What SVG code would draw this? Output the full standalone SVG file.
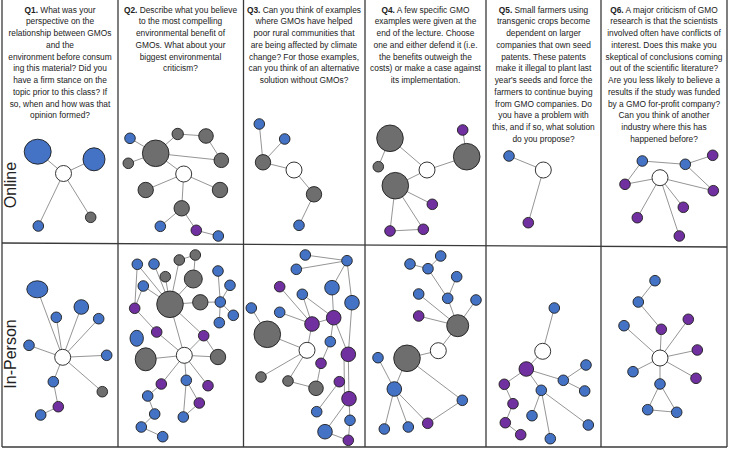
<svg xmlns="http://www.w3.org/2000/svg" width="729" height="449" viewBox="0 0 729 449">
<style>
.h{font-family:"Liberation Sans",Arial,sans-serif;font-size:8.35px;fill:#222;text-anchor:middle}
.h .q{font-weight:bold}
.lab{font-family:"Liberation Sans",Arial,sans-serif;font-size:16px;fill:#222;text-anchor:middle}
.grid line{stroke:#3a3a3a;stroke-width:1.3}
#connectors line{stroke:#7a7a7a;stroke-width:0.8}
.b{fill:#4472c4;stroke:#1e1e1e;stroke-width:0.9}
.g{fill:#6e6e6e;stroke:#1e1e1e;stroke-width:0.9}
.p{fill:#7030a0;stroke:#1e1e1e;stroke-width:0.9}
.w{fill:#fff;stroke:#1e1e1e;stroke-width:0.9}
</style>
<rect width="729" height="449" fill="#fff"/>
<g class="grid">
<line x1="2" y1="0" x2="2" y2="447"/>
<line x1="118" y1="0" x2="118" y2="447"/>
<line x1="243.5" y1="0" x2="243.5" y2="447"/>
<line x1="365" y1="0" x2="365" y2="447"/>
<line x1="486" y1="0" x2="486" y2="447"/>
<line x1="601" y1="0" x2="601" y2="447"/>
<line x1="727" y1="0" x2="727" y2="447"/>
<line x1="2" y1="243" x2="727" y2="247"/>
<line x1="2" y1="447" x2="727" y2="447"/>
</g>
<g id="headers">
<text class="h"><tspan x="60" y="12.5"><tspan class="q">Q1.</tspan> What was your</tspan><tspan x="60" y="24.25">perspective on the</tspan><tspan x="60" y="36">relationship between GMOs</tspan><tspan x="60" y="47.75">and the</tspan><tspan x="60" y="59.5">environment before consum</tspan><tspan x="60" y="71.25">ing this material? Did you</tspan><tspan x="60" y="83">have a firm stance on the</tspan><tspan x="60" y="94.75">topic prior to this class? If</tspan><tspan x="60" y="106.5">so, when and how was that</tspan><tspan x="60" y="118.25">opinion formed?</tspan></text>
<text class="h"><tspan x="180.5" y="12.5"><tspan class="q">Q2.</tspan> Describe what you believe</tspan><tspan x="180.5" y="24.25">to the most compelling</tspan><tspan x="180.5" y="36">environmental benefit of</tspan><tspan x="180.5" y="47.75">GMOs. What about your</tspan><tspan x="180.5" y="59.5">biggest environmental</tspan><tspan x="180.5" y="71.25">criticism?</tspan></text>
<text class="h"><tspan x="304" y="12.5"><tspan class="q">Q3.</tspan> Can you think of examples</tspan><tspan x="304" y="24.25">where GMOs have helped</tspan><tspan x="304" y="36">poor rural communities that</tspan><tspan x="304" y="47.75">are being affected by climate</tspan><tspan x="304" y="59.5">change? For those examples,</tspan><tspan x="304" y="71.25">can you think of an alternative</tspan><tspan x="304" y="83">solution without GMOs?</tspan></text>
<text class="h"><tspan x="425.5" y="12.5"><tspan class="q">Q4.</tspan> A few specific GMO</tspan><tspan x="425.5" y="24.25">examples were given at the</tspan><tspan x="425.5" y="36">end of the lecture. Choose</tspan><tspan x="425.5" y="47.75">one and either defend it (i.e.</tspan><tspan x="425.5" y="59.5">the benefits outweigh the</tspan><tspan x="425.5" y="71.25">costs) or make a case against</tspan><tspan x="425.5" y="83">its implementation.</tspan></text>
<text class="h"><tspan x="543.5" y="12.5"><tspan class="q">Q5.</tspan> Small farmers using</tspan><tspan x="543.5" y="24.25">transgenic crops become</tspan><tspan x="543.5" y="36">dependent on larger</tspan><tspan x="543.5" y="47.75">companies that own seed</tspan><tspan x="543.5" y="59.5">patents. These patents</tspan><tspan x="543.5" y="71.25">make it illegal to plant last</tspan><tspan x="543.5" y="83">year's seeds and force the</tspan><tspan x="543.5" y="94.75">farmers to continue buying</tspan><tspan x="543.5" y="106.5">from GMO companies. Do</tspan><tspan x="543.5" y="118.25">you have a problem with</tspan><tspan x="543.5" y="130">this, and if so, what solution</tspan><tspan x="543.5" y="141.75">do you propose?</tspan></text>
<text class="h"><tspan x="664" y="12.5"><tspan class="q">Q6.</tspan> A major criticism of GMO</tspan><tspan x="664" y="24.25">research is that the scientists</tspan><tspan x="664" y="36">involved often have conflicts of</tspan><tspan x="664" y="47.75">interest. Does this make you</tspan><tspan x="664" y="59.5">skeptical of conclusions coming</tspan><tspan x="664" y="71.25">out of the scientific literature?</tspan><tspan x="664" y="83">Are you less likely to believe a</tspan><tspan x="664" y="94.75">results if the study was funded</tspan><tspan x="664" y="106.5">by a GMO for-profit company?</tspan><tspan x="664" y="118.25">Can you think of another</tspan><tspan x="664" y="130">industry where this has</tspan><tspan x="664" y="141.75">happened before?</tspan></text>
</g>
<g id="row-labels">
<text class="lab" transform="translate(16,185) rotate(-90)">Online</text>
<text class="lab" transform="translate(16,354) rotate(-90)">In-Person</text>
</g>
<g id="connectors">
<line x1="63.5" y1="173.5" x2="37.7" y2="151.7"/><line x1="63.5" y1="173.5" x2="94" y2="159.3"/><line x1="63.5" y1="173.5" x2="38.3" y2="226"/><line x1="63.5" y1="173.5" x2="90.7" y2="217.3"/>
<line x1="130" y1="138.3" x2="155.7" y2="153.3"/><line x1="128.3" y1="163.3" x2="155.7" y2="153.3"/><line x1="155.7" y1="153.3" x2="177.7" y2="134"/><line x1="177.7" y1="134" x2="206" y2="136"/><line x1="155.7" y1="153.3" x2="221.3" y2="160.3"/><line x1="206" y1="136" x2="221.3" y2="160.3"/><line x1="155.7" y1="153.3" x2="183.7" y2="174"/><line x1="183.7" y1="174" x2="145.7" y2="190"/><line x1="183.7" y1="174" x2="220" y2="190"/><line x1="183.7" y1="174" x2="181.7" y2="208.3"/><line x1="181.7" y1="208.3" x2="160.3" y2="226.3"/><line x1="181.7" y1="208.3" x2="196.3" y2="230.3"/><line x1="196.3" y1="230.3" x2="218.3" y2="236"/>
<line x1="259.3" y1="124" x2="263" y2="162.3"/><line x1="284.7" y1="139" x2="263" y2="162.3"/><line x1="263" y1="162.3" x2="294" y2="170"/><line x1="294" y1="170" x2="314" y2="194.3"/><line x1="314" y1="194.3" x2="299" y2="225.3"/>
<line x1="390" y1="138.3" x2="378.3" y2="166.7"/><line x1="390" y1="138.3" x2="427" y2="170"/><line x1="427" y1="170" x2="466.7" y2="156.7"/><line x1="466.7" y1="156.7" x2="462.7" y2="130"/><line x1="427" y1="170" x2="395.3" y2="185.7"/><line x1="395.3" y1="185.7" x2="432.3" y2="204.3"/><line x1="395.3" y1="185.7" x2="390" y2="231"/><line x1="395.3" y1="185.7" x2="423.3" y2="229.3"/><line x1="390" y1="231" x2="423.3" y2="229.3"/>
<line x1="509" y1="156" x2="543.3" y2="170"/><line x1="543.3" y1="170" x2="528.3" y2="222.7"/>
<line x1="642.3" y1="161" x2="685.3" y2="164.3"/><line x1="685.3" y1="164.3" x2="712.7" y2="155.3"/><line x1="642.3" y1="161" x2="625" y2="184.3"/><line x1="625" y1="184.3" x2="660" y2="177.7"/><line x1="685.3" y1="164.3" x2="713.3" y2="190.7"/><line x1="660" y1="177.7" x2="713.3" y2="190.7"/><line x1="660" y1="177.7" x2="683.3" y2="207.3"/><line x1="660" y1="177.7" x2="637.3" y2="217.7"/><line x1="660" y1="177.7" x2="679.3" y2="236"/>
<line x1="62.7" y1="357.3" x2="37.3" y2="289.3"/><line x1="62.7" y1="357.3" x2="81.3" y2="307"/><line x1="62.7" y1="357.3" x2="56.3" y2="317.3"/><line x1="62.7" y1="357.3" x2="98.7" y2="318.7"/><line x1="62.7" y1="357.3" x2="29" y2="345.3"/><line x1="62.7" y1="357.3" x2="106.7" y2="355.3"/><line x1="62.7" y1="357.3" x2="53.3" y2="381.7"/><line x1="62.7" y1="357.3" x2="102.3" y2="391.7"/><line x1="53.3" y1="381.7" x2="58.3" y2="406.7"/><line x1="58.3" y1="406.7" x2="40.7" y2="415"/>
<line x1="137.3" y1="264.3" x2="170" y2="304.3"/><line x1="154" y1="264" x2="170" y2="304.3"/><line x1="143.3" y1="286" x2="170" y2="304.3"/><line x1="165.3" y1="276.7" x2="170" y2="304.3"/><line x1="179.3" y1="260" x2="170" y2="304.3"/><line x1="179.3" y1="260" x2="195.3" y2="255"/><line x1="195.3" y1="255" x2="193.3" y2="279"/><line x1="193.3" y1="279" x2="170" y2="304.3"/><line x1="137.3" y1="264.3" x2="134.7" y2="308.3"/><line x1="143.3" y1="286" x2="134.7" y2="308.3"/><line x1="170" y1="304.3" x2="200.3" y2="302.3"/><line x1="200.3" y1="302.3" x2="220.3" y2="302"/><line x1="220.3" y1="302" x2="218" y2="271"/><line x1="220.3" y1="302" x2="230" y2="285.3"/><line x1="220.3" y1="302" x2="233.3" y2="315.3"/><line x1="220.3" y1="302" x2="219.3" y2="322.7"/><line x1="134.7" y1="308.3" x2="156.7" y2="332"/><line x1="156.7" y1="332" x2="184.3" y2="355.3"/><line x1="170" y1="304.3" x2="184.3" y2="355.3"/><line x1="170" y1="304.3" x2="203.7" y2="335.7"/><line x1="184.3" y1="355.3" x2="203.7" y2="335.7"/><line x1="203.7" y1="335.7" x2="218" y2="357"/><line x1="184.3" y1="355.3" x2="218" y2="357"/><line x1="184.3" y1="355.3" x2="145.7" y2="359.3"/><line x1="184.3" y1="355.3" x2="161.3" y2="384"/><line x1="184.3" y1="355.3" x2="186.3" y2="380.3"/><line x1="184.3" y1="355.3" x2="208" y2="385.7"/><line x1="161.3" y1="384" x2="147.7" y2="396"/><line x1="147.7" y1="396" x2="154.7" y2="414"/><line x1="154.7" y1="414" x2="141.3" y2="427"/><line x1="141.3" y1="427" x2="162.7" y2="436.7"/><line x1="186.3" y1="380.3" x2="183.3" y2="417"/><line x1="186.3" y1="380.3" x2="199.3" y2="403"/><line x1="199.3" y1="403" x2="183.3" y2="417"/>
<line x1="305.3" y1="255" x2="347" y2="260.7"/><line x1="296.3" y1="269.3" x2="347" y2="260.7"/><line x1="347" y1="260.7" x2="332" y2="287.7"/><line x1="347" y1="260.7" x2="352" y2="302.7"/><line x1="332" y1="287.7" x2="333.7" y2="317.7"/><line x1="352" y1="302.7" x2="348.3" y2="354.3"/><line x1="279.7" y1="286.7" x2="312" y2="324"/><line x1="302.3" y1="294.3" x2="312" y2="324"/><line x1="302.3" y1="294.3" x2="333.7" y2="317.7"/><line x1="279.7" y1="312.3" x2="312" y2="324"/><line x1="312" y1="324" x2="333.7" y2="317.7"/><line x1="312" y1="324" x2="307" y2="350.3"/><line x1="333.7" y1="317.7" x2="330.3" y2="341.7"/><line x1="333.7" y1="317.7" x2="348.3" y2="354.3"/><line x1="251.3" y1="308" x2="267.3" y2="334.3"/><line x1="267.3" y1="334.3" x2="307" y2="350.3"/><line x1="307" y1="350.3" x2="261" y2="377"/><line x1="307" y1="350.3" x2="288" y2="381"/><line x1="288" y1="381" x2="316" y2="388.3"/><line x1="330.3" y1="341.7" x2="321" y2="363.3"/><line x1="321" y1="363.3" x2="316" y2="388.3"/><line x1="344" y1="354.3" x2="344.5" y2="398.7"/><line x1="348.3" y1="354.3" x2="349" y2="398.7"/><line x1="339.3" y1="381.7" x2="316.7" y2="411.7"/><line x1="349" y1="398.7" x2="325" y2="431.7"/><line x1="349" y1="398.7" x2="350" y2="420.3"/><line x1="350" y1="420.3" x2="348.3" y2="440.3"/><line x1="325" y1="431.7" x2="348.3" y2="440.3"/>
<line x1="410" y1="264" x2="428" y2="268.7"/><line x1="428" y1="268.7" x2="440.7" y2="256"/><line x1="428" y1="268.7" x2="447.7" y2="298.3"/><line x1="456.7" y1="276.7" x2="447.7" y2="298.3"/><line x1="447.7" y1="298.3" x2="457.7" y2="325.7"/><line x1="418.7" y1="294" x2="457.7" y2="325.7"/><line x1="476" y1="300" x2="457.7" y2="325.7"/><line x1="418.7" y1="316" x2="457.7" y2="325.7"/><line x1="457.7" y1="325.7" x2="438.3" y2="350.7"/><line x1="438.3" y1="350.7" x2="407" y2="358.3"/><line x1="407" y1="358.3" x2="394.3" y2="389"/><line x1="407" y1="358.3" x2="462.3" y2="400.3"/><line x1="378" y1="357.7" x2="394.3" y2="389"/><line x1="394.3" y1="389" x2="384.3" y2="429"/><line x1="394.3" y1="389" x2="408.3" y2="427"/><line x1="394.3" y1="389" x2="427.7" y2="423.3"/><line x1="427.7" y1="423.3" x2="462.3" y2="400.3"/>
<line x1="554.3" y1="308" x2="542.7" y2="351.3"/><line x1="542.7" y1="351.3" x2="526.3" y2="369"/><line x1="526.3" y1="369" x2="504.3" y2="384.3"/><line x1="526.3" y1="369" x2="563.3" y2="380.3"/><line x1="526.3" y1="369" x2="541.3" y2="390.3"/><line x1="563.3" y1="380.3" x2="586" y2="365"/><line x1="563.3" y1="380.3" x2="584.7" y2="391"/><line x1="541.3" y1="390.3" x2="532" y2="415.7"/><line x1="541.3" y1="390.3" x2="550.3" y2="438.7"/><line x1="541.3" y1="390.3" x2="588.3" y2="425"/><line x1="504.3" y1="384.3" x2="513" y2="403.7"/><line x1="513" y1="403.7" x2="505.3" y2="422.7"/><line x1="505.3" y1="422.7" x2="520.7" y2="434.7"/>
<line x1="655" y1="280.7" x2="638.3" y2="302"/><line x1="638.3" y1="302" x2="661.3" y2="329.3"/><line x1="661.3" y1="329.3" x2="660" y2="358"/><line x1="624" y1="325.7" x2="660" y2="358"/><line x1="688.3" y1="319.3" x2="660" y2="358"/><line x1="697.3" y1="350" x2="660" y2="358"/><line x1="633" y1="371.7" x2="660" y2="358"/><line x1="696" y1="378.3" x2="660" y2="358"/><line x1="660" y1="358" x2="660" y2="384"/><line x1="660" y1="384" x2="647.7" y2="409.7"/><line x1="660" y1="384" x2="676.7" y2="412.3"/><line x1="647.7" y1="409.7" x2="676.7" y2="412.3"/>
</g>
<g id="q1-online">
<g id="a0"><circle class="w" cx="63.5" cy="173.5" r="8"/></g>
<g id="a1"><ellipse class="b" cx="37.7" cy="151.7" rx="13.5" ry="12.5"/></g>
<g id="a2"><ellipse class="b" cx="94" cy="159.3" rx="11" ry="11.5"/></g>
<g id="a3"><circle class="b" cx="38.3" cy="226" r="5.3"/></g>
<g id="a4"><circle class="g" cx="90.7" cy="217.3" r="5.3"/></g>
</g>
<g id="q2-online">
<g id="b0"><circle class="w" cx="183.7" cy="174" r="8"/></g>
<g id="b1"><circle class="b" cx="130" cy="138.3" r="5.3"/></g>
<g id="b2"><circle class="g" cx="155.7" cy="153.3" r="13.3"/></g>
<g id="b3"><circle class="g" cx="128.3" cy="163.3" r="5.3"/></g>
<g id="b4"><circle class="g" cx="177.7" cy="134" r="5.7"/></g>
<g id="b5"><circle class="g" cx="206" cy="136" r="7.3"/></g>
<g id="b6"><circle class="g" cx="221.3" cy="160.3" r="7.3"/></g>
<g id="b7"><circle class="g" cx="145.7" cy="190" r="7.7"/></g>
<g id="b8"><circle class="g" cx="220" cy="190" r="7.7"/></g>
<g id="b9"><circle class="g" cx="181.7" cy="208.3" r="7.7"/></g>
<g id="b10"><circle class="b" cx="160.3" cy="226.3" r="5.3"/></g>
<g id="b11"><circle class="p" cx="196.3" cy="230.3" r="5.3"/></g>
<g id="b12"><circle class="b" cx="218.3" cy="236" r="5.3"/></g>
</g>
<g id="q3-online">
<g id="c0"><circle class="w" cx="294" cy="170" r="8"/></g>
<g id="c1"><circle class="b" cx="259.3" cy="124" r="5.3"/></g>
<g id="c2"><circle class="b" cx="284.7" cy="139" r="5.3"/></g>
<g id="c3"><circle class="g" cx="263" cy="162.3" r="7.7"/></g>
<g id="c4"><circle class="g" cx="314" cy="194.3" r="7.7"/></g>
<g id="c5"><circle class="b" cx="299" cy="225.3" r="5.3"/></g>
</g>
<g id="q4-online">
<g id="d0"><circle class="w" cx="427" cy="170" r="8"/></g>
<g id="d1"><circle class="g" cx="390" cy="138.3" r="13.3"/></g>
<g id="d2"><circle class="g" cx="378.3" cy="166.7" r="5.3"/></g>
<g id="d3"><circle class="g" cx="466.7" cy="156.7" r="13.3"/></g>
<g id="d4"><circle class="p" cx="462.7" cy="130" r="5.3"/></g>
<g id="d5"><circle class="g" cx="395.3" cy="185.7" r="13.3"/></g>
<g id="d6"><circle class="p" cx="432.3" cy="204.3" r="5.3"/></g>
<g id="d7"><circle class="p" cx="390" cy="231" r="5.3"/></g>
<g id="d8"><circle class="p" cx="423.3" cy="229.3" r="5.3"/></g>
</g>
<g id="q5-online">
<g id="e0"><circle class="w" cx="543.3" cy="170" r="8"/></g>
<g id="e1"><circle class="b" cx="509" cy="156" r="5.3"/></g>
<g id="e2"><circle class="p" cx="528.3" cy="222.7" r="5.3"/></g>
</g>
<g id="q6-online">
<g id="f0"><circle class="w" cx="660" cy="177.7" r="8"/></g>
<g id="f1"><circle class="b" cx="642.3" cy="161" r="5.3"/></g>
<g id="f2"><circle class="b" cx="685.3" cy="164.3" r="5.3"/></g>
<g id="f3"><circle class="p" cx="712.7" cy="155.3" r="5.3"/></g>
<g id="f4"><circle class="p" cx="625" cy="184.3" r="5.3"/></g>
<g id="f5"><circle class="p" cx="713.3" cy="190.7" r="5.3"/></g>
<g id="f6"><circle class="p" cx="683.3" cy="207.3" r="5.3"/></g>
<g id="f7"><circle class="p" cx="637.3" cy="217.7" r="5.3"/></g>
<g id="f8"><circle class="p" cx="679.3" cy="236" r="5.3"/></g>
</g>
<g id="q1-inperson">
<g id="g0"><circle class="w" cx="62.7" cy="357.3" r="8"/></g>
<g id="g1"><ellipse class="b" cx="37.3" cy="289.3" rx="10.5" ry="8.5"/></g>
<g id="g2"><circle class="b" cx="81.3" cy="307" r="7.3"/></g>
<g id="g3"><circle class="b" cx="56.3" cy="317.3" r="5.3"/></g>
<g id="g4"><circle class="b" cx="98.7" cy="318.7" r="5.3"/></g>
<g id="g5"><circle class="b" cx="29" cy="345.3" r="5.3"/></g>
<g id="g6"><circle class="b" cx="106.7" cy="355.3" r="5.3"/></g>
<g id="g7"><circle class="b" cx="53.3" cy="381.7" r="5.3"/></g>
<g id="g8"><circle class="g" cx="102.3" cy="391.7" r="5.3"/></g>
<g id="g9"><circle class="p" cx="58.3" cy="406.7" r="5.3"/></g>
<g id="g10"><circle class="b" cx="40.7" cy="415" r="5.3"/></g>
</g>
<g id="q2-inperson">
<g id="h0"><circle class="w" cx="184.3" cy="355.3" r="8"/></g>
<g id="h1"><circle class="b" cx="137.3" cy="264.3" r="5.3"/></g>
<g id="h2"><circle class="b" cx="154" cy="264" r="5.3"/></g>
<g id="h3"><circle class="g" cx="179.3" cy="260" r="5.3"/></g>
<g id="h4"><circle class="g" cx="195.3" cy="255" r="5.3"/></g>
<g id="h5"><circle class="g" cx="165.3" cy="276.7" r="5.3"/></g>
<g id="h6"><circle class="g" cx="193.3" cy="279" r="9"/></g>
<g id="h7"><circle class="b" cx="143.3" cy="286" r="5.3"/></g>
<g id="h8"><circle class="b" cx="218" cy="271" r="5.3"/></g>
<g id="h9"><circle class="b" cx="230" cy="285.3" r="5.3"/></g>
<g id="h10"><circle class="g" cx="170" cy="304.3" r="13.3"/></g>
<g id="h11"><circle class="g" cx="200.3" cy="302.3" r="7.7"/></g>
<g id="h12"><circle class="b" cx="220.3" cy="302" r="5.3"/></g>
<g id="h13"><circle class="b" cx="233.3" cy="315.3" r="5.3"/></g>
<g id="h14"><circle class="b" cx="219.3" cy="322.7" r="5.3"/></g>
<g id="h15"><circle class="p" cx="134.7" cy="308.3" r="5.3"/></g>
<g id="h16"><circle class="p" cx="156.7" cy="332" r="5.3"/></g>
<g id="h17"><circle class="p" cx="203.7" cy="335.7" r="5.3"/></g>
<g id="h18"><ellipse class="b" cx="136.7" cy="338.3" rx="6.7" ry="8"/></g>
<g id="h19"><ellipse class="g" cx="145.7" cy="359.3" rx="10.5" ry="11.5"/></g>
<g id="h20"><circle class="g" cx="218" cy="357" r="7.7"/></g>
<g id="h21"><circle class="p" cx="161.3" cy="384" r="5.3"/></g>
<g id="h22"><circle class="b" cx="186.3" cy="380.3" r="5.3"/></g>
<g id="h23"><circle class="p" cx="208" cy="385.7" r="5.3"/></g>
<g id="h24"><circle class="b" cx="147.7" cy="396" r="5.3"/></g>
<g id="h25"><circle class="p" cx="199.3" cy="403" r="5.3"/></g>
<g id="h26"><circle class="b" cx="154.7" cy="414" r="5.3"/></g>
<g id="h27"><circle class="b" cx="183.3" cy="417" r="5.3"/></g>
<g id="h28"><circle class="b" cx="141.3" cy="427" r="5.3"/></g>
<g id="h29"><circle class="b" cx="162.7" cy="436.7" r="5.3"/></g>
</g>
<g id="q3-inperson">
<g id="i0"><circle class="w" cx="307" cy="350.3" r="8"/></g>
<g id="i1"><circle class="b" cx="305.3" cy="255" r="5.3"/></g>
<g id="i2"><circle class="b" cx="347" cy="260.7" r="5.3"/></g>
<g id="i3"><circle class="b" cx="296.3" cy="269.3" r="5.3"/></g>
<g id="i4"><circle class="p" cx="279.7" cy="286.7" r="5.3"/></g>
<g id="i5"><circle class="b" cx="332" cy="287.7" r="7.3"/></g>
<g id="i6"><circle class="b" cx="302.3" cy="294.3" r="5.3"/></g>
<g id="i7"><circle class="b" cx="352" cy="302.7" r="7.3"/></g>
<g id="i8"><circle class="b" cx="251.3" cy="308" r="5.3"/></g>
<g id="i9"><circle class="b" cx="279.7" cy="312.3" r="5.3"/></g>
<g id="i10"><circle class="p" cx="312" cy="324" r="7.3"/></g>
<g id="i11"><circle class="p" cx="333.7" cy="317.7" r="7.3"/></g>
<g id="i12"><circle class="g" cx="267.3" cy="334.3" r="13.3"/></g>
<g id="i13"><circle class="b" cx="330.3" cy="341.7" r="5.3"/></g>
<g id="i14"><circle class="p" cx="348.3" cy="354.3" r="7.3"/></g>
<g id="i15"><circle class="p" cx="321" cy="363.3" r="5.3"/></g>
<g id="i16"><circle class="g" cx="261" cy="377" r="5.3"/></g>
<g id="i17"><circle class="g" cx="288" cy="381" r="5.3"/></g>
<g id="i18"><circle class="g" cx="316" cy="388.3" r="7.3"/></g>
<g id="i19"><circle class="p" cx="339.3" cy="381.7" r="5.3"/></g>
<g id="i20"><circle class="p" cx="349" cy="398.7" r="7.3"/></g>
<g id="i21"><circle class="b" cx="316.7" cy="411.7" r="5.3"/></g>
<g id="i22"><circle class="b" cx="350" cy="420.3" r="5.3"/></g>
<g id="i23"><circle class="b" cx="325" cy="431.7" r="7.3"/></g>
<g id="i24"><circle class="p" cx="348.3" cy="440.3" r="5.3"/></g>
</g>
<g id="q4-inperson">
<g id="j0"><circle class="w" cx="438.3" cy="350.7" r="8"/></g>
<g id="j1"><circle class="b" cx="410" cy="264" r="5.3"/></g>
<g id="j2"><circle class="b" cx="440.7" cy="256" r="5.3"/></g>
<g id="j3"><circle class="b" cx="428" cy="268.7" r="5.3"/></g>
<g id="j4"><circle class="b" cx="456.7" cy="276.7" r="5.3"/></g>
<g id="j5"><circle class="b" cx="418.7" cy="294" r="5.3"/></g>
<g id="j6"><circle class="b" cx="447.7" cy="298.3" r="5.3"/></g>
<g id="j7"><circle class="b" cx="476" cy="300" r="5.3"/></g>
<g id="j8"><circle class="p" cx="418.7" cy="316" r="5.3"/></g>
<g id="j9"><circle class="g" cx="457.7" cy="325.7" r="11"/></g>
<g id="j10"><circle class="g" cx="407" cy="358.3" r="13.3"/></g>
<g id="j11"><circle class="b" cx="378" cy="357.7" r="5.3"/></g>
<g id="j12"><circle class="b" cx="394.3" cy="389" r="7.3"/></g>
<g id="j13"><circle class="b" cx="462.3" cy="400.3" r="5.3"/></g>
<g id="j14"><circle class="p" cx="427.7" cy="423.3" r="5.3"/></g>
<g id="j15"><circle class="b" cx="384.3" cy="429" r="5.3"/></g>
<g id="j16"><circle class="b" cx="408.3" cy="427" r="5.3"/></g>
</g>
<g id="q5-inperson">
<g id="k0"><circle class="w" cx="542.7" cy="351.3" r="8"/></g>
<g id="k1"><circle class="b" cx="554.3" cy="308" r="5.3"/></g>
<g id="k2"><circle class="p" cx="526.3" cy="369" r="7.3"/></g>
<g id="k3"><circle class="b" cx="586" cy="365" r="5.3"/></g>
<g id="k4"><circle class="b" cx="563.3" cy="380.3" r="5.3"/></g>
<g id="k5"><circle class="p" cx="504.3" cy="384.3" r="5.3"/></g>
<g id="k6"><circle class="b" cx="541.3" cy="390.3" r="5.3"/></g>
<g id="k7"><circle class="b" cx="584.7" cy="391" r="5.3"/></g>
<g id="k8"><circle class="p" cx="513" cy="403.7" r="5.3"/></g>
<g id="k9"><circle class="b" cx="532" cy="415.7" r="5.3"/></g>
<g id="k10"><circle class="p" cx="505.3" cy="422.7" r="5.3"/></g>
<g id="k11"><circle class="b" cx="588.3" cy="425" r="5.3"/></g>
<g id="k12"><circle class="p" cx="520.7" cy="434.7" r="5.3"/></g>
<g id="k13"><circle class="b" cx="550.3" cy="438.7" r="5.3"/></g>
</g>
<g id="q6-inperson">
<g id="l0"><circle class="w" cx="660" cy="358" r="8"/></g>
<g id="l1"><circle class="b" cx="655" cy="280.7" r="5.3"/></g>
<g id="l2"><circle class="b" cx="638.3" cy="302" r="5.3"/></g>
<g id="l3"><circle class="b" cx="624" cy="325.7" r="5.3"/></g>
<g id="l4"><circle class="p" cx="661.3" cy="329.3" r="5.3"/></g>
<g id="l5"><circle class="p" cx="688.3" cy="319.3" r="5.3"/></g>
<g id="l6"><circle class="p" cx="697.3" cy="350" r="5.3"/></g>
<g id="l7"><circle class="b" cx="633" cy="371.7" r="5.3"/></g>
<g id="l8"><circle class="p" cx="696" cy="378.3" r="5.3"/></g>
<g id="l9"><circle class="b" cx="660" cy="384" r="5.3"/></g>
<g id="l10"><circle class="b" cx="647.7" cy="409.7" r="5.3"/></g>
<g id="l11"><circle class="b" cx="676.7" cy="412.3" r="5.3"/></g>
</g>
</svg>
